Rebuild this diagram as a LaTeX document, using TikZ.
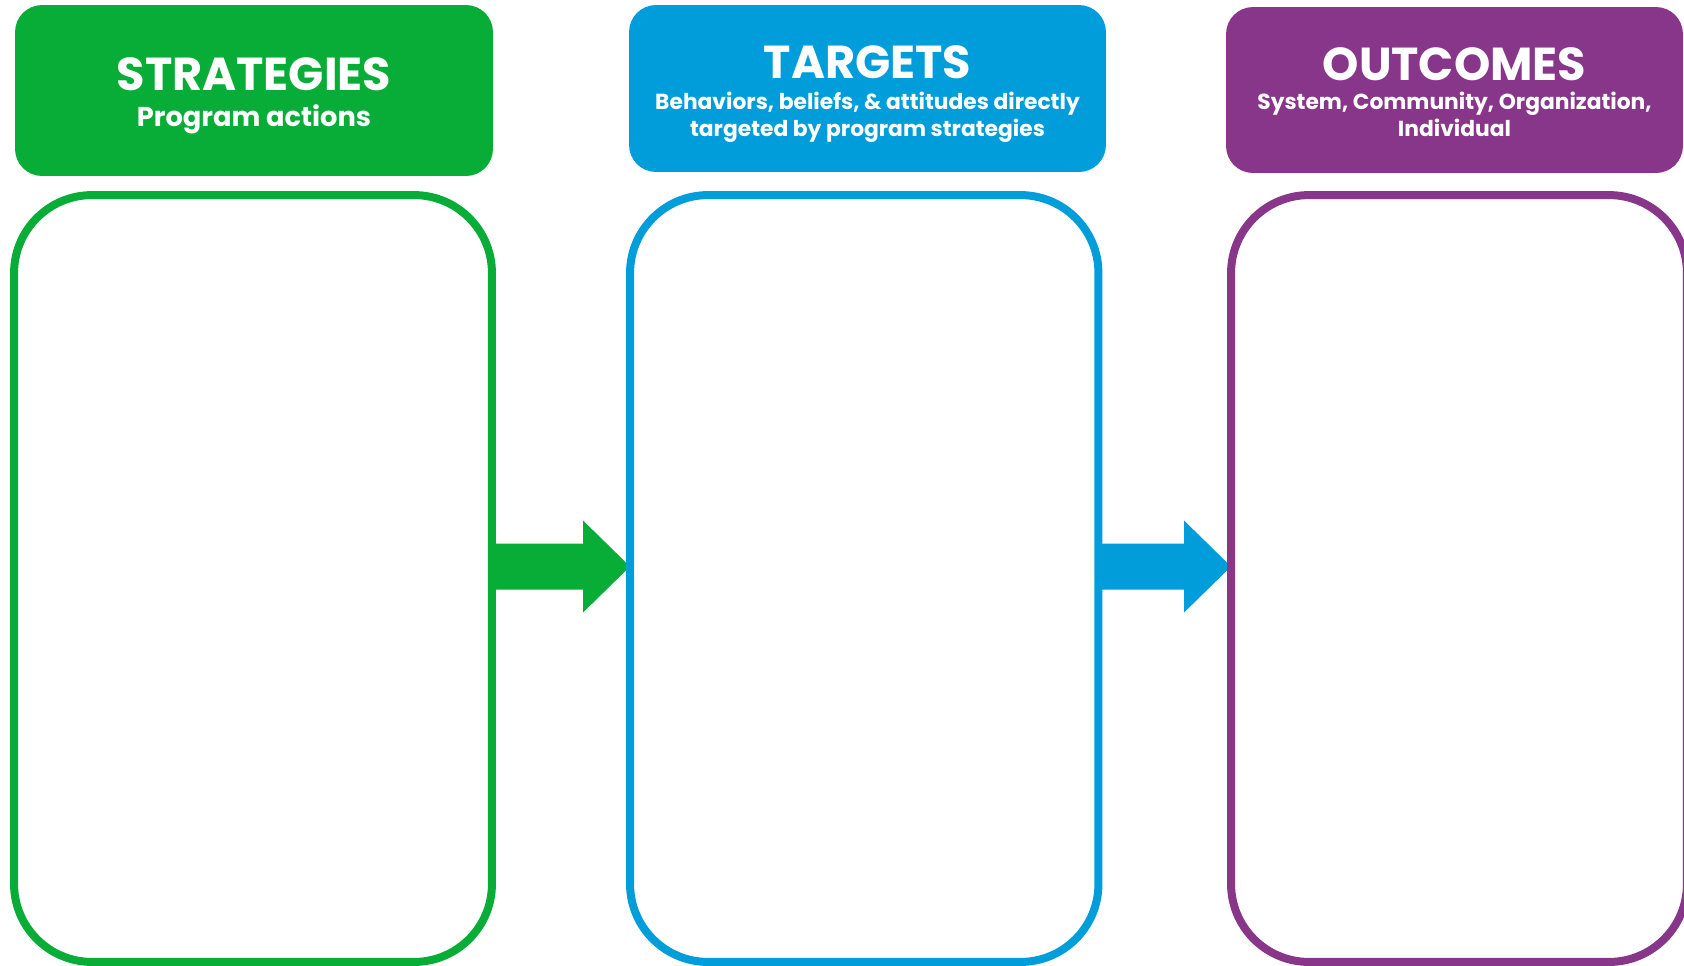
\documentclass[tikz,border=0pt]{standalone}
\usepackage{fontspec}
\setmainfont{Poppins}
\usepackage{tikz}
\usetikzlibrary{positioning}
\usetikzlibrary{calc}
\usetikzlibrary{backgrounds}
\definecolor{sgreen}{RGB}{8,173,56}
\definecolor{tblue}{RGB}{0,157,219}
\definecolor{opurple}{RGB}{135,54,138}
\tikzset{head/.style={rounded corners=0.54cm,inner sep=0pt},
  htitle/.style={text=white,inner sep=0pt,font=\fontsize{26.3}{30}\selectfont\bfseries},
  hsub/.style={text=white,inner sep=0pt,align=center,anchor=base,font=\fontsize{12.4}{15.4}\selectfont\bfseries},
  panel/.style={rounded corners=1.56cm,line width=4.55pt,outer sep=0pt,minimum height=15.34cm}}

\begin{document}
\begin{tikzpicture}[x=0.02cm,y=-0.02cm]
\useasboundingbox (0,0) rectangle (1684,965);
% header boxes
\node (shead) at (254,90.5) [head,fill=sgreen,minimum width=9.56cm,minimum height=3.42cm] {};
\node (thead) at (867.5,88.5) [head,fill=tblue,minimum width=9.54cm,minimum height=3.34cm] {};
\node (ohead) at (1454.5,90) [head,fill=opurple,minimum width=9.14cm,minimum height=3.32cm] {};
\node (stitle) [htitle] at ($(shead.north)+(0,70)$) {STRATEGIES};
\node (ssub) [hsub,font=\fontsize{15.5}{18}\selectfont\bfseries] at ($(shead.north)+(0,122)$) {Program actions};
\node (ttitle) [htitle] at ($(thead.north)+(0,57.5)$) {TARGETS};
\node (tsub) [hsub] at ($(thead.north)+(0,132)$) {Behaviors, beliefs, \& attitudes directly\\ targeted by program strategies};
\node (otitle) [htitle] at ($(ohead.north)+(0,58)$) {OUTCOMES};
\node (osub) [hsub] at ($(ohead.north)+(0,130)$) {System, Community, Organization,\\ Individual};
% empty panels
\node (sbox) at (253,578.5) [panel,draw=sgreen,minimum width=9.56cm] {};
\node (tbox) at (864.25,578.5) [panel,draw=tblue,minimum width=9.37cm] {};
\node (obox) at (1459,578.5) [panel,draw=opurple,minimum width=9.12cm] {};
% block arrows
\begin{pgfonlayer}{background}
\foreach \a/\b/\c in {sbox/tbox/sgreen, tbox/obox/tblue} {
\fill[\c] ($(\a.east)+(0,-35)$) -- ($(\b.west)+(-47,-35)$) -- ($(\b.west)+(-47,-58)$) -- ($(\b.west)+(0,-12)$)
  -- ($(\b.west)+(-47,34)$) -- ($(\b.west)+(-47,11)$) -- ($(\a.east)+(0,11)$) -- cycle;
}
\end{pgfonlayer}
\end{tikzpicture}
\end{document}
